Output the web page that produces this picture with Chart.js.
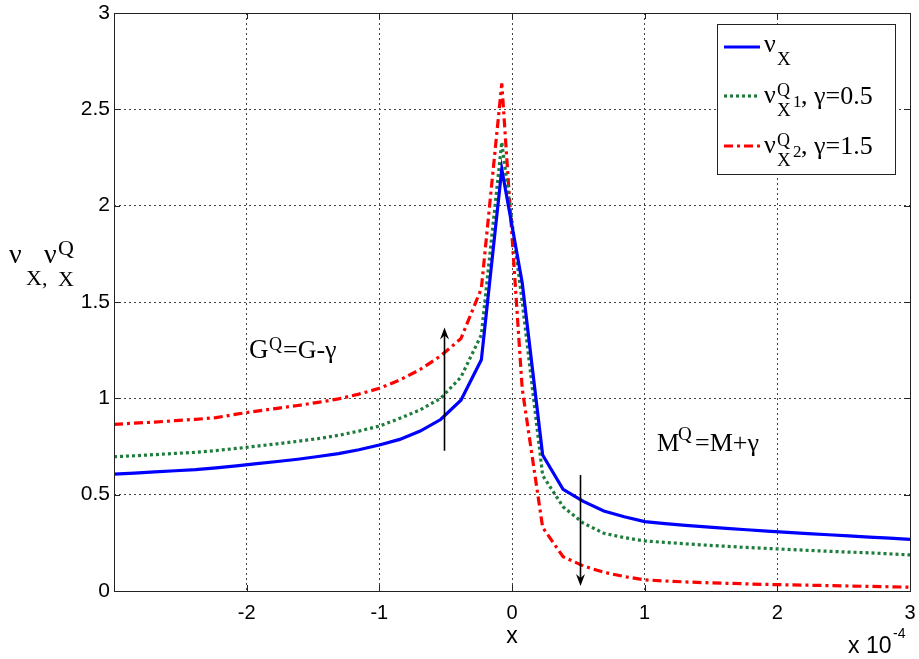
<!DOCTYPE html>
<html>
<head>
<meta charset="utf-8">
<script src="https://cdn.jsdelivr.net/npm/chart.js@4.4.1/dist/chart.umd.min.js"></script>
<style>
html,body{margin:0;padding:0;background:#fff;}
canvas{display:block;}
</style>
</head>
<body>
<canvas id="c" width="919" height="659"></canvas>
<script>
// x values (units of 1e-4)
const xValues = [-3.000,-2.846,-2.692,-2.538,-2.385,-2.231,-2.077,-1.923,-1.769,-1.615,-1.462,-1.308,-1.154,-1.000,-0.846,-0.692,-0.538,-0.385,-0.231,-0.077,0.077,0.231,0.385,0.538,0.692,0.846,1.000,1.154,1.308,1.462,1.615,1.769,1.923,2.077,2.231,2.385,2.538,2.692,2.846,3.000];
// nu_X
const nuX = [0.607,0.612,0.618,0.624,0.630,0.639,0.649,0.661,0.672,0.684,0.698,0.713,0.733,0.758,0.787,0.830,0.890,0.990,1.200,2.190,1.600,0.706,0.528,0.465,0.415,0.385,0.360,0.350,0.341,0.333,0.325,0.318,0.311,0.304,0.298,0.292,0.286,0.280,0.274,0.268];
// nu_X^Q1, gamma = 0.5
const nuXQ1 = [0.697,0.702,0.708,0.714,0.720,0.729,0.740,0.752,0.764,0.777,0.791,0.808,0.830,0.856,0.896,0.940,1.000,1.110,1.330,2.330,1.500,0.600,0.437,0.352,0.300,0.277,0.260,0.252,0.245,0.238,0.232,0.226,0.221,0.216,0.211,0.206,0.202,0.198,0.193,0.187];
// nu_X^Q2, gamma = 1.5
const nuXQ2 = [0.865,0.871,0.877,0.884,0.891,0.900,0.918,0.934,0.948,0.963,0.979,0.997,1.022,1.052,1.095,1.150,1.220,1.310,1.570,2.635,1.050,0.330,0.178,0.130,0.097,0.075,0.058,0.052,0.047,0.043,0.040,0.037,0.034,0.032,0.030,0.028,0.026,0.024,0.022,0.020];

const xTicks = [-3,-2,-1,0,1,2,3];
const yTicks = [0,0.5,1,1.5,2,2.5,3];

// arrows: [x, yFrom, yTo]
const arrowUp = [-0.512, 0.728, 1.368];
const arrowDown = [0.513, 0.602, 0.026];

const SERIF = '"Liberation Serif","Times New Roman",serif';
const SANS = '"Liberation Sans",Arial,Helvetica,sans-serif';

function pts(ys){ return xValues.map((x,i)=>({x:x, y:ys[i]})); }

function drawParts(ctx, parts){
  parts.forEach(p=>{
    ctx.font = p.s + 'px ' + (p.f || SERIF);
    ctx.fillStyle = '#000';
    ctx.textAlign = 'left';
    ctx.textBaseline = 'alphabetic';
    ctx.fillText(p.t, p.x, p.y);
  });
}

function arrow(ctx, xs, ys, x, y0, y1){
  const px = Math.round(xs.getPixelForValue(x)) + 0.5;
  const p0 = ys.getPixelForValue(y0);
  const p1 = ys.getPixelForValue(y1);
  const dir = p1 < p0 ? 1 : -1;
  ctx.save();
  ctx.strokeStyle = '#000';
  ctx.fillStyle = '#000';
  ctx.lineWidth = 1.6;
  ctx.beginPath();
  ctx.moveTo(px, p0); ctx.lineTo(px, p1 + dir*4);
  ctx.stroke();
  ctx.beginPath();
  ctx.moveTo(px-4.5, p1 + dir*12); ctx.lineTo(px, p1); ctx.lineTo(px+4.5, p1 + dir*12);
  ctx.lineTo(px, p1 + dir*8); ctx.closePath();
  ctx.fill();
  ctx.restore();
}

const overlay = {
  id: 'overlay',
  afterDraw(chart){
    const ctx = chart.ctx;
    const a = chart.chartArea;
    const xs = chart.scales.x, ys = chart.scales.y;
    ctx.save();
    // axes box
    ctx.strokeStyle = '#222';
    ctx.lineWidth = 1;
    ctx.setLineDash([]);
    ctx.strokeRect(Math.round(a.left)+0.5, Math.round(a.top)+0.5, Math.round(a.right-a.left), Math.round(a.bottom-a.top));
    // inner ticks
    ctx.beginPath();
    xTicks.forEach(t=>{
      const px = Math.round(xs.getPixelForValue(t))+0.5;
      ctx.moveTo(px, a.bottom); ctx.lineTo(px, a.bottom-6);
      ctx.moveTo(px, a.top); ctx.lineTo(px, a.top+6);
    });
    yTicks.forEach(t=>{
      const py = Math.round(ys.getPixelForValue(t))+0.5;
      ctx.moveTo(a.left, py); ctx.lineTo(a.left+6, py);
      ctx.moveTo(a.right, py); ctx.lineTo(a.right-6, py);
    });
    ctx.stroke();

    // arrows
    arrow(ctx, xs, ys, arrowUp[0], arrowUp[1], arrowUp[2]);
    arrow(ctx, xs, ys, arrowDown[0], arrowDown[1], arrowDown[2]);

    // annotations
    drawParts(ctx, [
      {t:'G', s:27, x:249, y:358},
      {t:'Q', s:18, x:269, y:350},
      {t:'=G-\u03b3', s:26, x:283, y:358}
    ]);
    drawParts(ctx, [
      {t:'M', s:25, x:657, y:451},
      {t:'Q', s:19, x:678, y:440},
      {t:'=M+\u03b3', s:26, x:695, y:451}
    ]);

    // y-axis title
    drawParts(ctx, [
      {t:'\u03bd', s:28, x:9, y:263},
      {t:'X,', s:22, x:26, y:285},
      {t:'\u03bd', s:28, x:44, y:263},
      {t:'Q', s:22, x:58, y:255},
      {t:'X', s:22, x:58, y:286}
    ]);

    // x-axis title and exponent
    ctx.fillStyle = '#000';
    ctx.font = '23px ' + SANS;
    ctx.textAlign = 'center';
    ctx.fillText('x', (a.left+a.right)/2, 643);
    ctx.textAlign = 'left';
    ctx.font = '23px ' + SANS;
    ctx.fillText('x 10', 848, 653);
    ctx.font = '14px ' + SANS;
    ctx.fillText('-4', 893, 638);

    // legend
    ctx.fillStyle = '#fff';
    ctx.fillRect(717, 24, 178, 150);
    ctx.strokeStyle = '#222';
    ctx.lineWidth = 1;
    ctx.strokeRect(717.5, 24.5, 178, 150);
    const ds = chart.data.datasets;
    const rows = [47, 96, 146];
    ds.forEach((d,i)=>{
      ctx.save();
      ctx.strokeStyle = d.borderColor;
      ctx.lineWidth = d.borderWidth;
      ctx.setLineDash(d.borderDash || []);
      ctx.beginPath();
      ctx.moveTo(724, rows[i]); ctx.lineTo(760, rows[i]);
      ctx.stroke();
      ctx.restore();
    });
    drawParts(ctx, [
      {t:'\u03bd', s:26, x:764, y:52},
      {t:'X', s:19, x:777, y:65}
    ]);
    drawParts(ctx, [
      {t:'\u03bd', s:26, x:764, y:103},
      {t:'Q', s:18, x:777, y:96},
      {t:'X', s:19, x:777, y:116},
      {t:'1', s:17, x:793, y:107},
      {t:', \u03b3=0.5', s:26, x:801, y:104}
    ]);
    drawParts(ctx, [
      {t:'\u03bd', s:26, x:764, y:153},
      {t:'Q', s:18, x:777, y:146},
      {t:'X', s:19, x:777, y:166},
      {t:'2', s:17, x:793, y:157},
      {t:', \u03b3=1.5', s:26, x:801, y:154}
    ]);
    ctx.restore();
  }
};

new Chart(document.getElementById('c'), {
  type: 'line',
  data: {
    datasets: [
      {label:'nuX', data: pts(nuX), borderColor:'#0000ff', borderWidth:3.2, pointRadius:0, tension:0, fill:false},
      {label:'nuXQ1', data: pts(nuXQ1), borderColor:'#1e7d3c', borderWidth:3.2, borderDash:[3,3], pointRadius:0, tension:0, fill:false},
      {label:'nuXQ2', data: pts(nuXQ2), borderColor:'#ff0000', borderWidth:3.2, borderDash:[9,4,3,4], pointRadius:0, tension:0, fill:false}
    ]
  },
  options: {
    responsive: false,
    devicePixelRatio: 1,
    animation: false,
    layout: {padding: {left:0, top:13, right:9, bottom:0}},
    plugins: {legend:{display:false}, tooltip:{enabled:false}},
    scales: {
      x: {
        type: 'linear', min: -3, max: 3,
        afterBuildTicks(s){ s.ticks = xTicks.map(v=>({value:v})); },
        afterFit(s){ s.height = 68; s.paddingLeft = 0; s.paddingRight = 0; },
        ticks: {
          font: {family: SANS, size: 20}, color: '#000', padding: 10, maxRotation: 0,
          callback: v => (v === -3 ? '' : String(v))
        },
        grid: {color: '#444', lineWidth: 1, drawTicks: false},
        border: {display: false, dash: [2,3]}
      },
      y: {
        min: 0, max: 3,
        afterBuildTicks(s){ s.ticks = yTicks.map(v=>({value:v})); },
        afterFit(s){ s.width = 114; s.paddingTop = 0; s.paddingBottom = 0; },
        ticks: {font: {family: SANS, size: 21}, color: '#000', padding: 4,
          callback: v => String(v)},
        grid: {color: '#444', lineWidth: 1, drawTicks: false},
        border: {display: false, dash: [2,3]}
      }
    }
  },
  plugins: [overlay]
});
</script>
</body>
</html>
